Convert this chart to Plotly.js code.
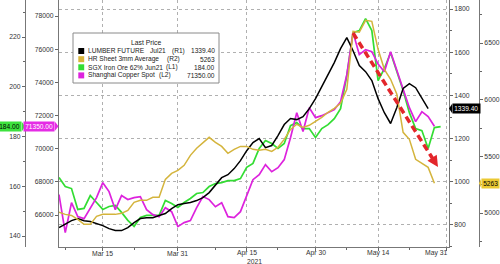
<!DOCTYPE html>
<html>
<head>
<meta charset="utf-8">
<script src="https://cdn.plot.ly/plotly-3.0.1.min.js"></script>
<style>html,body{margin:0;padding:0;background:#fff;}#chart{width:500px;height:264px;}</style>
</head>
<body>
<div id="chart"></div>
<script>
// ---- data ----
const dates = [
 '2021-03-04','2021-03-05','2021-03-08','2021-03-09','2021-03-10','2021-03-11','2021-03-12',
 '2021-03-15','2021-03-16','2021-03-17','2021-03-18','2021-03-19','2021-03-22','2021-03-23',
 '2021-03-24','2021-03-25','2021-03-26','2021-03-29','2021-03-30','2021-03-31','2021-04-01',
 '2021-04-02','2021-04-05','2021-04-06','2021-04-07','2021-04-08','2021-04-09','2021-04-12',
 '2021-04-13','2021-04-14','2021-04-15','2021-04-16','2021-04-19','2021-04-20','2021-04-21',
 '2021-04-22','2021-04-23','2021-04-26','2021-04-27','2021-04-28','2021-04-29','2021-04-30',
 '2021-05-03','2021-05-04','2021-05-05','2021-05-06','2021-05-07','2021-05-10','2021-05-11',
 '2021-05-12','2021-05-13','2021-05-14','2021-05-17','2021-05-18','2021-05-19','2021-05-20',
 '2021-05-21','2021-05-24','2021-05-25','2021-05-26','2021-05-27','2021-05-28'
];
// LUMBER FUTURE Jul21 (R1)
const lumber = [788,806,820,830,820,816,806,797,783,774,
 774,788,811,830,834,834,844,853,876,894,
 899,904,913,927,950,982,1019,1033,1061,1098,
 1144,1182,1200,1158,1168,1214,1265,1293,1288,1302,
 1339,1385,1441,1496,1552,1617,1668,1607,1538,1510,
 1469,1385,1320,1270,1344,1432,1455,1436,1390,1339.4];
// HR Sheet 3mm Average (R2)
const hrSheet = [5006,4988,4979,4944,4900,4900,4970,4988,4988,4988,
 4997,5023,5094,5112,5112,5138,5138,5297,5350,5376,
 5421,5509,5571,5624,5668,5624,5588,5527,5562,5588,
 5588,5562,5553,5562,5544,5580,5650,5738,5783,5756,
 5774,5809,5844,5889,5924,5968,6092,6604,6595,6701,
 6692,6445,6268,6180,6048,5712,5650,5474,5438,5403,5263];
// SGX Iron Ore 62% Jun21 (L1)
const ironOre = [163.5,159.9,159.1,150.7,151.1,156.3,153.5,150.7,151.9,152.3,
 149.5,146.3,143.9,147.5,148.3,148.3,148.3,154.3,153.1,151.5,
 153.5,155.1,157.1,157.5,159.9,161.1,161.5,162.3,162.3,163.1,
 167.6,169.2,175.2,178.4,177.2,175.2,177.2,184.4,185.6,183.2,
 183.2,179.6,183.2,184.8,187.2,191.2,204.5,221.8,222.6,227.4,
 222.6,202.5,207.3,213.7,206.5,198.5,189.6,183.2,182.4,175.2,183.6,184.0];
// Shanghai Copper Spot (L2)
const copper = [67230,64940,66740,65900,65780,66440,67050,67950,67410,66320,
 67170,66930,67050,67110,66320,66020,65900,66440,66200,65300,
 65540,65660,66440,67110,66930,66500,66740,65900,65840,66200,
 67110,68130,68430,69040,68610,68850,69340,70660,72170,71030,
 72470,71870,71990,72170,72350,72830,74460,77000,75670,75970,
 75850,75100,74640,75850,74760,73680,72470,71630,72230,71930,71350];

const seriesNames = ['LUMBER FUTURE','HR Sheet 3mm Average','SGX Iron Ore 62%','Shanghai Copper Spot'];
const seriesTickers = ['Jul21','','Jun21',''];
const seriesAxes = ['(R1)','(R2)','(L1)','(L2)'];
const lastLabels = ['1339.40','5263','184.00','71350.00'];
const xTickVals = ['2021-03-15','2021-03-31','2021-04-15','2021-04-30','2021-05-14','2021-05-31'];
const xTickText = ['Mar 15','Mar 31','Apr 15','Apr 30','May 14','May 31'];
const xMinorVals = ['2021-03-05','2021-03-22','2021-04-08','2021-04-22','2021-05-07','2021-05-21'];
const yearLabel = '2021';

// ---- styling / layout ----
const F = 'Liberation Sans, Arial, sans-serif';
const C = {lumber:'#000000', hr:'#d4b43c', iron:'#33dd33', copper:'#dd22dd', red:'#e3262b'};
const ML = 25, MR = 21, PH = 247, PW = 500 - ML - MR;
const pxX = p => (p - ML) / PW;
const pxY = p => (PH - p) / PH;
const R = {iron:[135.6,234.9], copper:[64070,78965], lumber:[698,1842], hr:[4700,6880]};
const valPy = (v, r) => PH * (1 - (v - r[0]) / (r[1] - r[0]));

const traces = [
 {x: dates.slice(0, ironOre.length), y: ironOre, yaxis:'y', type:'scatter', mode:'lines', line:{color:C.iron, width:1.7}},
 {x: dates.slice(0, copper.length), y: copper, yaxis:'y2', type:'scatter', mode:'lines', line:{color:C.copper, width:1.7}},
 {x: dates.slice(0, lumber.length), y: lumber, yaxis:'y3', type:'scatter', mode:'lines', line:{color:C.lumber, width:1.5}},
 {x: dates.slice(0, hrSheet.length), y: hrSheet, yaxis:'y4', type:'scatter', mode:'lines', line:{color:C.hr, width:1.5}}
];

const tickFont = {family:F, size:6.8, color:'#333'};
const axBase = {ticks:'outside', ticklen:3, tickcolor:'#666', showline:true, linecolor:'#777', linewidth:1,
  zeroline:false, showgrid:false, tickfont:tickFont, tickformat:'d', fixedrange:true, tickmode:'linear'};

const shapes = [];
const annotations = [];

// x tick labels (drawn as annotations so they sit like the reference)
for (let i = 0; i < xTickVals.length; i++) {
  const last = i === xTickVals.length - 1;
  annotations.push({xref:'x', yref:'paper', x:xTickVals[i], y:pxY(253), text:xTickText[i], showarrow:false,
    xanchor: last ? 'right' : 'center', xshift: last ? 2 : 0, yanchor:'middle', font:tickFont, borderpad:0});
}
annotations.push({xref:'paper', yref:'paper', x:pxX(254), y:pxY(261.5), text:yearLabel, showarrow:false,
  xanchor:'center', yanchor:'middle', font:tickFont, borderpad:0});

// legend box
shapes.push({type:'rect', xref:'paper', yref:'paper', x0:pxX(73), x1:pxX(219), y0:pxY(83), y1:pxY(33),
  fillcolor:'#ffffff', line:{color:'#8a8a8a', width:1}, layer:'above'});
annotations.push({xref:'paper', yref:'paper', x:pxX(146), y:pxY(43), text:'Last Price', showarrow:false,
  xanchor:'center', yanchor:'middle', font:{family:F, size:6.8, color:'#222'}});
const rowY = [51, 59.2, 67.3, 75.4];
const rowColors = [C.lumber, '#d9b53a', C.iron, C.copper];
const tickerX = [149, 0, 144, 0];
const axisX = [171, 166, 165, 158];
for (let i = 0; i < 4; i++) {
  shapes.push({type:'rect', xref:'paper', yref:'paper', x0:pxX(78.3), x1:pxX(84.2), y0:pxY(rowY[i]+3), y1:pxY(rowY[i]-3),
    fillcolor:rowColors[i], line:{width:0}, layer:'above'});
  const lf = {family:F, size:6.6, color:'#222'};
  annotations.push({xref:'paper', yref:'paper', x:pxX(86.5), y:pxY(rowY[i]), text:seriesNames[i], showarrow:false,
    xanchor:'left', yanchor:'middle', font:lf, borderpad:0});
  if (seriesTickers[i]) annotations.push({xref:'paper', yref:'paper', x:pxX(tickerX[i]), y:pxY(rowY[i]), text:seriesTickers[i],
    showarrow:false, xanchor:'left', yanchor:'middle', font:lf, borderpad:0});
  annotations.push({xref:'paper', yref:'paper', x:pxX(axisX[i]), y:pxY(rowY[i]), text:seriesAxes[i], showarrow:false,
    xanchor:'left', yanchor:'middle', font:lf, borderpad:0});
  annotations.push({xref:'paper', yref:'paper', x:pxX(216), y:pxY(rowY[i]), text:lastLabels[i], showarrow:false,
    xanchor:'right', yanchor:'middle', font:lf, borderpad:0});
}

// last-value badges
const bf = (c) => ({family:F, size:6.6, color:c});
const ironLast = ironOre[ironOre.length-1], copLast = copper[copper.length-1];
const lumLast = lumber[lumber.length-1], hrLast = hrSheet[hrSheet.length-1];
annotations.push({xref:'paper', yref:'y', x:pxX(22), y:ironLast, text:lastLabels[2], xanchor:'right', yanchor:'middle',
  showarrow:false, bgcolor:'#3de23d', font:bf('#000'), borderpad:1.2});
annotations.push({xref:'paper', yref:'y2', x:pxX(55), y:copLast, text:lastLabels[3], xanchor:'right', yanchor:'middle',
  showarrow:false, bgcolor:'#e52ce5', font:bf('#fff'), borderpad:1.2});
annotations.push({xref:'paper', yref:'y3', x:pxX(452), y:lumLast, text:lastLabels[0], xanchor:'left', yanchor:'middle',
  showarrow:false, bgcolor:'#000', font:bf('#fff'), borderpad:1.2});
annotations.push({xref:'paper', yref:'y4', x:pxX(481), y:hrLast, text:lastLabels[1], xanchor:'left', yanchor:'middle',
  showarrow:false, bgcolor:'#ebc933', font:bf('#000'), borderpad:1.2});
function tri(baseX, tipX, py, col) {
  const h = 4.8;
  return {type:'path', xref:'paper', yref:'paper', layer:'above',
    path:`M ${pxX(baseX)},${pxY(py-h)} L ${pxX(tipX)},${pxY(py)} L ${pxX(baseX)},${pxY(py+h)} Z`,
    fillcolor:col, line:{width:0}};
}
shapes.push(tri(21.8, 25, valPy(ironLast, R.iron), '#3de23d'));
shapes.push(tri(54.8, 58.5, valPy(copLast, R.copper), '#e52ce5'));
shapes.push(tri(452.2, 449, valPy(lumLast, R.lumber), '#000'));
shapes.push(tri(481.2, 479, valPy(hrLast, R.hr), '#ebc933'));

// red dashed trend arrow
const a0 = [353, 33], tip = [438, 167];
const dx = tip[0]-a0[0], dy = tip[1]-a0[1], L = Math.hypot(dx, dy);
const ux = dx/L, uy = dy/L, hl = 11, hw = 5.5;
const bc = [tip[0]-hl*ux, tip[1]-hl*uy];
shapes.push({type:'line', xref:'paper', yref:'paper', x0:pxX(a0[0]), y0:pxY(a0[1]), x1:pxX(bc[0]+ux), y1:pxY(bc[1]+uy),
  line:{color:C.red, width:3.5, dash:'7px,4px'}, layer:'above'});
shapes.push({type:'path', xref:'paper', yref:'paper', layer:'above', fillcolor:C.red, line:{width:0},
  path:`M ${pxX(tip[0])},${pxY(tip[1])} L ${pxX(bc[0]+hw*uy)},${pxY(bc[1]-hw*ux)} L ${pxX(bc[0]-hw*uy)},${pxY(bc[1]+hw*ux)} Z`});

const layout = {
  width:500, height:264, margin:{l:ML, r:MR, t:0, b:17, pad:0},
  paper_bgcolor:'#ffffff', plot_bgcolor:'#ffffff', showlegend:false, hovermode:false,
  font:{family:F, size:6.8, color:'#333'},
  xaxis:{domain:[pxX(59), pxX(449)], type:'date', range:['2021-03-04','2021-05-31 08:00'],
    rangebreaks:[{bounds:['sat','mon']}], tickmode:'array', tickvals:xTickVals, ticktext:xTickText,
    showticklabels:false,
    ticks:'outside', ticklen:3, tickcolor:'#666', showline:true, linecolor:'#777', linewidth:1,
    showgrid:true, gridcolor:'#b0b0b0', griddash:'dot', gridwidth:1, zeroline:false, tickfont:tickFont,
    minor:{tickmode:'array', tickvals:xMinorVals, ticks:'outside', ticklen:2, tickcolor:'#666', showgrid:false},
    fixedrange:true},
  yaxis: Object.assign({}, axBase, {anchor:'free', position:0, side:'left', range:R.iron, tick0:140, dtick:20,
    minor:{tick0:130, dtick:10, ticks:'outside', ticklen:2, tickcolor:'#666', showgrid:false}}),
  yaxis2: Object.assign({}, axBase, {overlaying:'y', anchor:'x', side:'left', range:R.copper, tick0:66000, dtick:2000}),
  yaxis3: Object.assign({}, axBase, {overlaying:'y', anchor:'x', side:'right', range:R.lumber, tick0:800, dtick:200,
    showgrid:true, gridcolor:'#b0b0b0', griddash:'dot', gridwidth:1,
    minor:{tick0:700, dtick:100, ticks:'outside', ticklen:2, tickcolor:'#666', showgrid:false}}),
  yaxis4: Object.assign({}, axBase, {overlaying:'y', anchor:'free', position:1, side:'right', range:R.hr, tick0:5000, dtick:500,
    minor:{tick0:4750, dtick:250, ticks:'outside', ticklen:2, tickcolor:'#666', showgrid:false}}),
  shapes: shapes,
  annotations: annotations
};

Plotly.newPlot('chart', traces, layout, {displayModeBar:false, staticPlot:true});
</script>
</body>
</html>
